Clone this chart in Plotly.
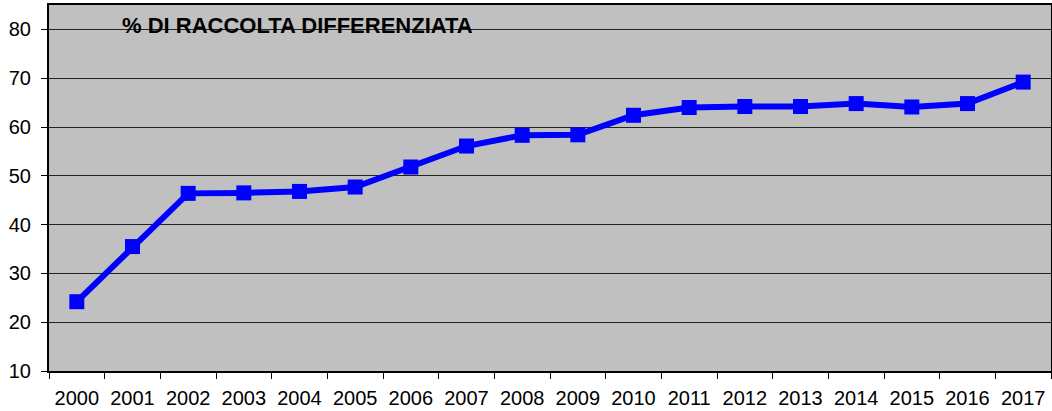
import plotly.graph_objects as go

years = ["2000", "2001", "2002", "2003", "2004", "2005", "2006", "2007", "2008",
         "2009", "2010", "2011", "2012", "2013", "2014", "2015", "2016", "2017"]
raccolta = [24.2, 35.5, 46.4, 46.5, 46.8, 47.7, 51.8, 56.1, 58.3,
            58.4, 62.4, 64.0, 64.2, 64.2, 64.8, 64.1, 64.8, 69.2]
y_ticks = [10, 20, 30, 40, 50, 60, 70, 80]
title_text = "% DI RACCOLTA DIFFERENZIATA"

FONT = "Arial, Liberation Sans, sans-serif"

fig = go.Figure()
fig.add_trace(go.Scatter(
    x=years, y=raccolta, mode="lines+markers",
    line=dict(color="#0000FF", width=6),
    marker=dict(symbol="square", size=15, color="#0000FF"),
    showlegend=False, cliponaxis=False,
))

fig.update_layout(
    width=1052, height=411,
    margin=dict(l=49, r=1, t=5, b=40),
    paper_bgcolor="white",
    plot_bgcolor="#C0C0C0",
    font=dict(family=FONT, size=20, color="black"),
    xaxis=dict(
        type="category", tickson="boundaries", range=[-0.5, len(years) - 0.5],
        automargin=False,
        showgrid=False, showline=True, linecolor="black", linewidth=2,
        mirror=True, ticks="outside", ticklen=6, tickcolor="black",
        tickfont=dict(size=20), ticklabelstandoff=8,
    ),
    yaxis=dict(
        range=[10, 85], tickvals=y_ticks, automargin=False,
        showgrid=True, gridcolor="#222222", gridwidth=1,
        showline=True, linecolor="black", linewidth=2, mirror=True,
        ticks="outside", ticklen=6, tickcolor="black",
        tickfont=dict(size=20), zeroline=False, ticklabelstandoff=6,
    ),
    annotations=[dict(
        text="<b>" + title_text + "</b>", xref="paper", yref="paper",
        x=(120 - 49) / 1002, y=(371 - 26) / 366, xanchor="left", yanchor="middle",
        showarrow=False, font=dict(family=FONT, size=22, color="black"),
    )],
)

fig.write_html(
    "out.html",
    config={"displayModeBar": False},
    post_script="document.body.style.margin='0';document.body.style.padding='0';",
)
